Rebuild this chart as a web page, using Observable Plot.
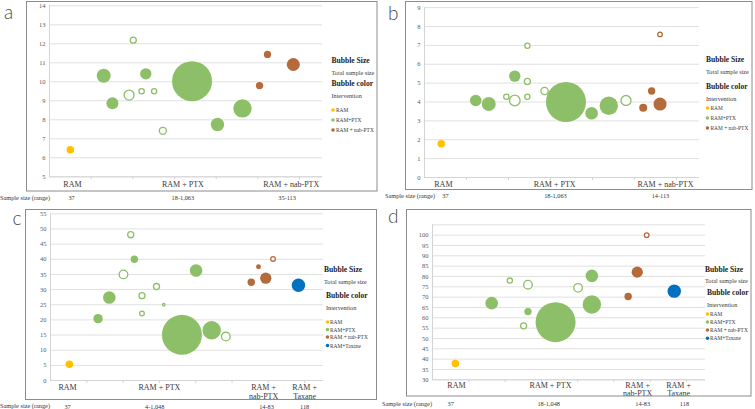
<!DOCTYPE html>
<html><head><meta charset="utf-8">
<script src="https://cdn.jsdelivr.net/npm/d3@7"></script>
<script src="https://cdn.jsdelivr.net/npm/@observablehq/plot@0.6"></script>
<style>
body{margin:0;background:#fff;}
#wrap{position:relative;width:755px;height:409px;overflow:hidden;background:#fff;}
#wrap svg{position:absolute;}
</style></head><body><div id="wrap"></div>
<script>
// ---------- shared ----------
const groupNames = ["RAM", "RAM+PTX", "RAM + nab-PTX", "RAM+Taxane"];
const groupColors = ["#FFC000", "#8DBF68", "#B56A3B", "#0070C0"];
const R = "RAM", P = "RAM+PTX", N = "RAM + nab-PTX", T = "RAM+Taxane";

// ---------- panel a : OS ----------
const osX      = [0.5, 1.3, 1.51, 1.91, 2.01, 2.21, 2.31, 2.51, 2.72, 3.42, 4.03, 4.63, 5.04, 5.23, 5.85];
const osVal    = [6.42, 10.32, 8.87, 9.3, 12.19, 9.5, 10.42, 9.5, 7.42, 10.03, 7.75, 8.6, 9.8, 11.44, 10.91];
const osN      = [37, 130, 96, 66, 24, 19, 86, 18, 33, 1063, 119, 225, 36, 35, 113];
const osGroup  = [R, P, P, P, P, P, P, P, P, P, P, P, N, N, N];
const osHollow = [0, 0, 0, 1, 1, 1, 0, 1, 1, 0, 0, 0, 0, 0, 0];
const osTicks  = [5, 6, 7, 8, 9, 10, 11, 12, 13, 14];
const osCats   = ["RAM", "RAM + PTX", "RAM + nab-PTX"];
const osCatX   = [0.55, 3.2, 5.8];
const osSample = ["37", "18-1,063", "35-113"];
const osSampleX = [0.53, 3.2, 5.7];

// ---------- panel b : PFS ----------
const pfsX      = [0.4, 1.22, 1.53, 1.95, 2.15, 2.15, 2.45, 2.45, 2.45, 2.86, 3.37, 3.98, 4.39, 4.8, 5.21, 5.41, 5.61, 5.61];
const pfsVal    = [1.79, 4.08, 3.89, 4.28, 4.08, 5.37, 6.98, 5.09, 4.28, 4.58, 4.0, 3.4, 3.8, 4.08, 3.7, 4.58, 3.89, 7.58];
const pfsN      = [37, 89, 130, 19, 75, 86, 18, 24, 18, 36, 1063, 105, 225, 66, 43, 36, 113, 14];
const pfsGroup  = [R, P, P, P, P, P, P, P, P, P, P, P, P, P, N, N, N, N];
const pfsHollow = [0, 0, 0, 1, 1, 0, 1, 1, 1, 1, 0, 0, 0, 1, 0, 0, 0, 1];
const pfsTicks  = [0, 1, 2, 3, 4, 5, 6, 7, 8, 9];
const pfsCats   = ["RAM", "RAM + PTX", "RAM + nab-PTX"];
const pfsCatX   = [0.45, 3.1, 5.74];
const pfsSample = ["37", "18-1,063", "14-113"];
const pfsSampleX = [0.5, 3.12, 5.62];

// ---------- panel c : ORR ----------
const orrX      = [0.52, 1.31, 1.62, 2.01, 2.21, 2.31, 2.52, 2.52, 2.92, 3.12, 3.62, 4.01, 4.44, 4.83, 5.53, 5.73, 5.93, 6.13, 6.83];
const orrVal    = [5.36, 20.4, 27.4, 35.0, 48.1, 40.0, 28.0, 22.1, 31.0, 25.0, 15.06, 36.3, 16.6, 14.5, 32.4, 37.5, 33.75, 40.1, 31.4];
const orrN      = [37, 58, 104, 48, 24, 36, 24, 14, 24, 4, 1048, 104, 222, 48, 36, 16, 83, 14, 118];
const orrGroup  = [R, P, P, P, P, P, P, P, P, P, P, P, P, P, N, N, N, N, T];
const orrHollow = [0, 0, 0, 1, 1, 0, 1, 1, 1, 1, 0, 0, 0, 1, 0, 0, 0, 1, 0];
const orrTicks  = [0, 5, 10, 15, 20, 25, 30, 35, 40, 45, 50, 55];
const orrCats   = ["RAM", "RAM + PTX", "RAM +\nnab-PTX", "RAM +\nTaxane"];
const orrCatX   = [0.47, 3.0, 5.87, 7.0];
const orrSample = ["37", "4-1,048", "14-83", "118"];
const orrSampleX = [0.47, 2.87, 5.95, 7.0];

// ---------- panel d : DCR ----------
const dcrX      = [0.63, 1.63, 2.13, 2.63, 2.63, 2.51, 3.39, 4.01, 4.39, 4.39, 5.39, 5.64, 5.9, 6.66];
const dcrVal    = [37.9, 67.1, 78.0, 76.0, 63.0, 56.1, 57.9, 74.5, 80.3, 66.4, 70.3, 82.1, 100, 72.9];
const dcrN      = [37, 104, 18, 48, 36, 24, 1048, 48, 104, 222, 36, 83, 14, 118];
const dcrGroup  = [R, P, P, P, P, P, P, P, P, P, N, N, N, T];
const dcrHollow = [0, 0, 1, 1, 0, 1, 0, 1, 0, 0, 0, 0, 1, 0];
const dcrTicks  = [30, 35, 40, 45, 50, 55, 60, 65, 70, 75, 80, 85, 90, 95, 100];
const dcrGrid   = [30, 35, 40, 45, 50, 55, 60, 65, 70, 75, 80, 85, 90, 95, 100, 105];
const dcrCats   = ["RAM", "RAM + PTX", "RAM +\nnab-PTX", "RAM +\nTaxane"];
const dcrCatX   = [0.66, 3.25, 5.65, 6.78];
const dcrSample = ["37", "18-1,048", "14-83", "118"];
const dcrSampleX = [0.5, 3.2, 5.79, 6.94];

const wrap = document.getElementById("wrap");
const SERIF = "'Liberation Serif','Times New Roman',serif";

function drawPanel(cfg) {
  const rows = cfg.x.map((x, i) => ({x, y: cfg.v[i], n: cfg.n[i], g: cfg.g[i], hollow: !!cfg.hollow[i]}));
  const cats = cfg.cats.map((c, i) => ({x: cfg.catX[i], label: c}));
  const samples = cfg.sample.map((s, i) => ({x: cfg.sampleX[i], label: s}));
  const innerH = cfg.h - cfg.mt - cfg.mb;
  const chart = Plot.plot({
    width: cfg.w, height: cfg.h,
    marginLeft: cfg.ml, marginRight: cfg.mr, marginTop: cfg.mt, marginBottom: cfg.mb,
    x: {domain: cfg.xDomain, axis: null},
    y: {domain: cfg.yDomain, axis: "left", ticks: cfg.yTicks, tickSize: 0, tickPadding: 4, label: null},
    r: {type: "sqrt", domain: [0, cfg.nMax], range: [0, 20]},
    color: {domain: groupNames, range: groupColors},
    style: {fontFamily: SERIF, fontSize: "6.5px", color: "#595959", background: "transparent"},
    marks: [
      Plot.ruleY(cfg.grid, {stroke: "#e0e0e0", strokeWidth: 1}),
      Plot.ruleX([cfg.xDomain[0]], {stroke: "#d4d4d4"}),
      Plot.ruleY([cfg.yDomain[0]], {stroke: "#d4d4d4"}),
      Plot.ruleX(cfg.xTicks, {stroke: "#d4d4d4", insetTop: innerH, insetBottom: -3}),
      Plot.dot(rows.filter(d => !d.hollow), {x: "x", y: "y", r: "n", fill: "g"}),
      Plot.dot(rows.filter(d => d.hollow), {x: "x", y: "y", r: "n", stroke: "g", fill: "white", strokeWidth: 1.3}),
      Plot.text(cats, {x: "x", text: "label", frameAnchor: "bottom", lineAnchor: "top", dy: cfg.catDy,
        fontSize: 8, fill: "#3a3a3a", lineHeight: cfg.lineH}),
      Plot.text(samples, {x: "x", text: "label", frameAnchor: "bottom", lineAnchor: "middle", dy: cfg.sampleDy,
        fontSize: 6.3, fill: "#333"})
    ]
  });
  chart.style.left = cfg.left + "px";
  chart.style.top = cfg.top + "px";
  wrap.appendChild(chart);
}

drawPanel({x: osX, v: osVal, n: osN, g: osGroup, hollow: osHollow, nMax: 1063,
  cats: osCats, catX: osCatX, sample: osSample, sampleX: osSampleX,
  left: 0, top: 0, w: 378, h: 205, ml: 49, mr: 56, mt: 5.3, mb: 28.7,
  xDomain: [0, 6.55], xTicks: [1, 2, 3, 4, 5, 6], yDomain: [5, 14], yTicks: osTicks, grid: osTicks,
  catDy: 4.7, lineH: 1.05, sampleDy: 20.7});

drawPanel({x: pfsX, v: pfsVal, n: pfsN, g: pfsGroup, hollow: pfsHollow, nMax: 1063,
  cats: pfsCats, catX: pfsCatX, sample: pfsSample, sampleX: pfsSampleX,
  left: 378, top: 0, w: 377, h: 205, ml: 46, mr: 56, mt: 7.1, mb: 28,
  xDomain: [0, 6.55], xTicks: [1, 2, 3, 4, 5, 6], yDomain: [0, 9], yTicks: pfsTicks, grid: pfsTicks,
  catDy: 3.5, lineH: 1.05, sampleDy: 18});

drawPanel({x: orrX, v: orrVal, n: orrN, g: orrGroup, hollow: orrHollow, nMax: 1048,
  cats: orrCats, catX: orrCatX, sample: orrSample, sampleX: orrSampleX,
  left: 0, top: 205, w: 378, h: 204, ml: 50, mr: 55, mt: 8.3, mb: 29,
  xDomain: [0, 7.52], xTicks: [1, 2, 3, 4, 5, 6, 7], yDomain: [0, 55], yTicks: orrTicks, grid: orrTicks,
  catDy: 4.0, lineH: 1.05, sampleDy: 26});

drawPanel({x: dcrX, v: dcrVal, n: dcrN, g: dcrGroup, hollow: dcrHollow, nMax: 1048,
  cats: dcrCats, catX: dcrCatX, sample: dcrSample, sampleX: dcrSampleX,
  left: 378, top: 205, w: 377, h: 204, ml: 54, mr: 50, mt: 19.3, mb: 29.7,
  xDomain: [0, 7.52], xTicks: [1, 2, 3, 4, 5, 6, 7], yDomain: [30, 105], yTicks: dcrTicks, grid: dcrGrid,
  catDy: 1.5, lineH: 1.1, sampleDy: 23.7});

// ---------- overlay: frames, panel letters, legends, row labels ----------
const ov = d3.select(wrap).append("svg")
  .attr("width", 755).attr("height", 409)
  .style("left", "0px").style("top", "0px").style("pointer-events", "none")
  .style("font-family", SERIF);

const frames = [
  {x: 26.5, y: 1.5, w: 350.5, h: 189.5},
  {x: 405.5, y: 1.5, w: 346.5, h: 188},
  {x: 25.5, y: 209.5, w: 351, h: 190},
  {x: 406.5, y: 209.5, w: 344.5, h: 186.5}
];
ov.selectAll("rect.frame").data(frames).join("rect")
  .attr("x", d => d.x).attr("y", d => d.y).attr("width", d => d.w).attr("height", d => d.h)
  .attr("fill", "none").attr("stroke", "#8c8c8c").attr("stroke-width", 1);

const letters = [
  {t: "a", x: 4, y: 19}, {t: "b", x: 388, y: 19.5},
  {t: "c", x: 12.5, y: 225}, {t: "d", x: 388, y: 223.3}
];
ov.selectAll("text.letter").data(letters).join("text")
  .attr("x", d => d.x).attr("y", d => d.y).text(d => d.t)
  .attr("font-family", "Lato, 'Open Sans', 'DejaVu Sans', sans-serif").attr("font-weight", 300)
  .attr("font-size", 19).attr("fill", "#4a4a4a");

const rowLabels = [{x: 0, y: 197}, {x: 385, y: 195}, {x: 0, y: 405.5}, {x: 382, y: 403}];
ov.selectAll("text.rowlab").data(rowLabels).join("text")
  .attr("x", d => d.x).attr("y", d => d.y).attr("dominant-baseline", "central")
  .attr("font-size", 6.3).attr("fill", "#333").text("Sample size (range)");

const legends = [
  {tx: 331.5, cx: 331.5, ys: [60, 72.3, 83.3, 95], items: [110, 120, 130], dotX: 333, textX: 336},
  {tx: 706, cx: 706, ys: [59, 71, 86, 98], items: [108, 118, 128], dotX: 707.5, textX: 710.5},
  {tx: 324, cx: 326, ys: [269, 281, 295, 307], items: [322, 329.5, 337, 345.5], dotX: 327.5, textX: 330},
  {tx: 705, cx: 707, ys: [269.3, 280.5, 292.5, 304], items: [314, 322, 330, 338.3], dotX: 707.5, textX: 710}
];
legends.forEach(L => {
  const g = ov.append("g");
  g.append("text").attr("x", L.tx).attr("y", L.ys[0]).attr("dominant-baseline", "central")
    .attr("font-size", 7.6).attr("font-weight", "bold").attr("fill", "#222").text("Bubble Size");
  g.append("text").attr("x", L.tx).attr("y", L.ys[1]).attr("dominant-baseline", "central")
    .attr("font-size", 6.2).attr("fill", "#3a3a3a").text("Total sample size");
  g.append("text").attr("x", L.cx).attr("y", L.ys[2]).attr("dominant-baseline", "central")
    .attr("font-size", 7.6).attr("font-weight", "bold").attr("fill", "#222").text("Bubble color");
  g.append("text").attr("x", L.cx).attr("y", L.ys[3]).attr("dominant-baseline", "central")
    .attr("font-size", 6.2).attr("fill", "#3a3a3a").text("Intervention");
  L.items.forEach((y, i) => {
    g.append("circle").attr("cx", L.dotX).attr("cy", y).attr("r", 1.8).attr("fill", groupColors[i]);
    g.append("text").attr("x", L.textX).attr("y", y).attr("dominant-baseline", "central")
      .attr("font-size", 5.4).attr("fill", "#3a3a3a").text(groupNames[i]);
  });
});
</script>
</body></html>
